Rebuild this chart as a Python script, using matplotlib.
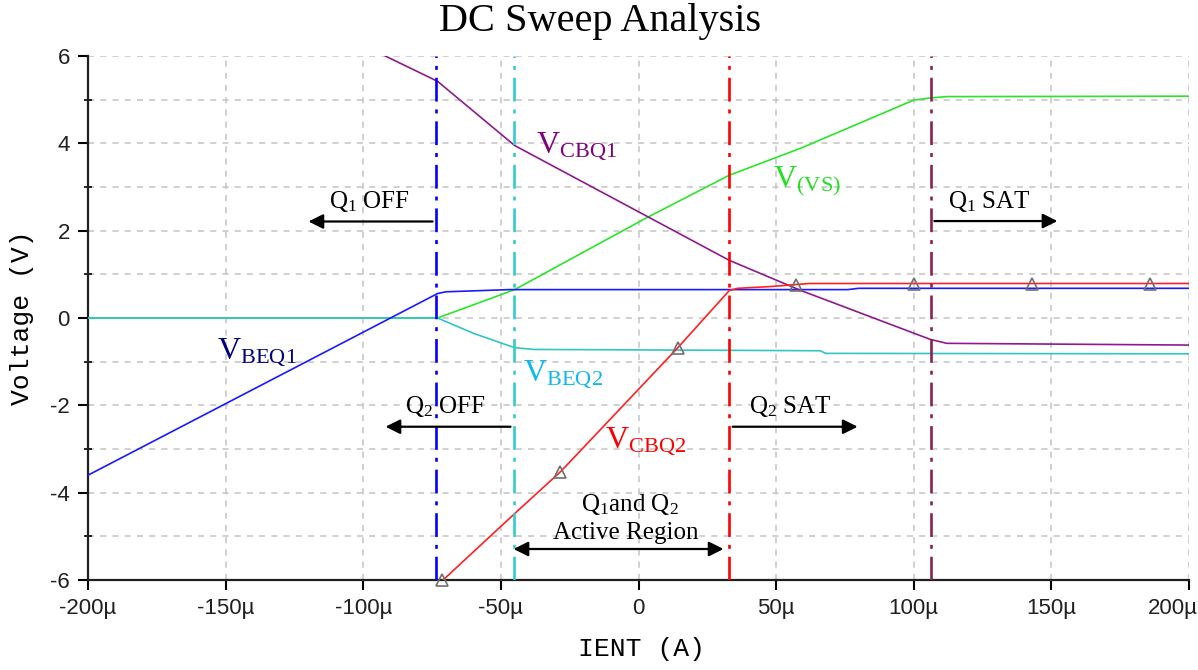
import numpy as np
import matplotlib
matplotlib.use("Agg")
import matplotlib.pyplot as plt

plt.rcParams['mathtext.fontset'] = 'custom'
plt.rcParams['mathtext.rm'] = 'Liberation Serif'
plt.rcParams['mathtext.it'] = 'Liberation Serif:italic'
plt.rcParams['axes.unicode_minus'] = False

# sweep current in uA, node voltages in V (piecewise read of the trace corners)
ient_beq1 = [-200, -73, -70, -47, 76, 80, 200]
v_beq1 = [-3.6, 0.56, 0.60, 0.65, 0.65, 0.68, 0.68]

ient_beq2 = [-200, -73, -60, -45, -38, 66, 68, 200]
v_beq2 = [0.0, 0.0, -0.35, -0.68, -0.72, -0.75, -0.81, -0.82]

ient_vs = [-200, -73, -45, 2.5, 33, 59, 100, 106, 112, 200]
v_vs = [0.0, 0.0, 0.65, 2.28, 3.27, 3.89, 4.99, 5.04, 5.07, 5.08]

ient_cbq1 = [-92, -73, -45, 33, 59, 106, 112, 200]
v_cbq1 = [6.0, 5.42, 3.95, 1.32, 0.63, -0.49, -0.58, -0.62]

ient_cbq2 = [-71, -45, -28, 14, 33, 36, 48, 62, 200]
v_cbq2 = [-6.0, -4.48, -3.5, -0.7, 0.63, 0.68, 0.72, 0.79, 0.79]

# probe markers on V(CBQ2)
marker_ient = [-71.5, -28.6, 14.3, 57.1, 100, 142.9, 185.7]

# region boundaries
bounds = [-73.7, -45.4, 33.0, 106.4]
bound_colors = ['#0000ff', '#33cccc', '#ff0000', '#8b2252']

xticks = [-200, -150, -100, -50, 0, 50, 100, 150, 200]
xtick_labels = ['-200µ', '-150µ', '-100µ', '-50µ', '0', '50µ', '100µ', '150µ', '200µ']
yticks = [-6, -4, -2, 0, 2, 4, 6]

fig = plt.figure(figsize=(11.98, 6.70), dpi=100)
ax = fig.add_axes([88/1198, 90/670, 1101/1198, 524/670])

ax.set_xlim(-200, 200)
ax.set_ylim(-6, 6)

ax.set_xticks(xticks)
# the last label sits on the right edge, so it is placed by hand below
ax.set_xticklabels(xtick_labels[:-1] + [''])
ax.set_yticks(yticks)
ax.set_yticks([-5, -3, -1, 1, 3, 5], minor=True)
for lbl in ax.get_xticklabels() + ax.get_yticklabels():
    lbl.set_family('Liberation Sans')
    lbl.set_fontsize(16)
    lbl.set_color('#202020')
ax.annotate(xtick_labels[-1], xy=(xticks[-1], 0), xycoords=('data', 'axes fraction'),
            xytext=(6, -13), textcoords='offset points', ha='right', va='top',
            family='Liberation Sans', fontsize=16, color='#202020', annotation_clip=False)
ax.tick_params(which='major', direction='out', length=7, width=1.5, pad=6)
ax.tick_params(axis='y', which='minor', direction='inout', length=6, width=1.2)

for s in ['top', 'right']:
    ax.spines[s].set_visible(False)
for s in ['left', 'bottom']:
    ax.spines[s].set_linewidth(1.6)
    ax.spines[s].set_color('#202020')

ax.grid(True, which='major', color='#c4c4c4', linestyle=(0, (4, 4)), linewidth=1.1)
ax.grid(True, which='minor', axis='y', color='#c4c4c4', linestyle=(0, (4, 4)), linewidth=1.1)
ax.set_axisbelow(True)

lw = 1.2
ax.plot(ient_vs, v_vs, color='#2be52b', lw=lw, zorder=3)
ax.plot(ient_beq2, v_beq2, color='#33c4c4', lw=lw, zorder=4)
ax.plot(ient_beq1, v_beq1, color='#1a1aff', lw=lw, zorder=4)
ax.plot(ient_cbq1, v_cbq1, color='#8e1a8e', lw=lw, zorder=4)
ax.plot(ient_cbq2, v_cbq2, color='#ff2020', lw=lw, zorder=4)
ax.plot(marker_ient, np.interp(marker_ient, ient_cbq2, v_cbq2), linestyle='none',
        marker='^', markersize=8, markerfacecolor='none', markeredgecolor='#707070',
        markeredgewidth=1.2, zorder=6, clip_on=False)

for xb, c in zip(bounds, bound_colors):
    ax.axvline(xb, color=c, lw=1.9, linestyle=(0, (9, 3, 1.5, 3)), zorder=5)

# trace labels
def trace_label(x, y, main, sub, color):
    ax.text(x, y, r'$\mathrm{%s_{%s}}$' % (main, sub), color=color, fontsize=23,
            ha='left', va='baseline', zorder=7)

trace_label(-37.4, 3.8, 'V', 'CBQ1', '#800080')
trace_label(49.0, 2.99, 'V', '(VS)', '#22e022')
trace_label(-153.1, -0.93, 'V', 'BEQ1', '#000080')
trace_label(-41.8, -1.43, 'V', 'BEQ2', '#10b8f0')
trace_label(-12.0, -2.97, 'V', 'CBQ2', '#ff0000')

# operating region annotations
arrow = dict(arrowstyle='-|>', color='black', lw=1.6, mutation_scale=22, shrinkA=0, shrinkB=0)
darrow = dict(arrowstyle='<|-|>', color='black', lw=1.6, mutation_scale=22, shrinkA=0, shrinkB=0)
ax.annotate('', xy=(-119.9, 2.21), xytext=(-74.8, 2.21), arrowprops=arrow, zorder=7)
ax.annotate('', xy=(-91.9, -2.49), xytext=(-46.5, -2.49), arrowprops=arrow, zorder=7)
ax.annotate('', xy=(79.6, -2.49), xytext=(34.2, -2.49), arrowprops=arrow, zorder=7)
ax.annotate('', xy=(152.2, 2.22), xytext=(107.5, 2.22), arrowprops=arrow, zorder=7)
ax.annotate('', xy=(-45.4, -5.29), xytext=(30.9, -5.29), arrowprops=darrow, zorder=7)

qstyle = dict(fontsize=18, family='Liberation Serif', color='black', va='baseline', zorder=7)
ax.text(-112.6, 2.53, r'$\mathrm{Q_1}$ OFF', ha='left', **qstyle)
ax.text(-84.7, -2.17, r'$\mathrm{Q_2}$ OFF', ha='left', **qstyle)
ax.text(40.0, -2.17, r'$\mathrm{Q_2}$ SAT', ha='left', **qstyle)
ax.text(112.3, 2.53, r'$\mathrm{Q_1}$ SAT', ha='left', **qstyle)
ax.text(-3.0, -4.42, r'$\mathrm{Q_1}$and $\mathrm{Q_2}$', ha='center', **qstyle)
ax.text(-4.5, -5.06, 'Active Region', ha='center', **qstyle)

fig.text(600/1198, 1 - 22/670, 'DC Sweep Analysis', family='Liberation Serif',
         fontsize=29, ha='center', va='center')
fig.text(642/1198, 1 - 637/670, 'IENT (A)', family='Liberation Mono',
         fontsize=19, ha='center', va='top')
fig.text(22/1198, 1 - 318/670, 'Voltage (V)', family='Liberation Mono',
         fontsize=19, ha='center', va='center', rotation=90)

fig.savefig('out.png', dpi=100)
